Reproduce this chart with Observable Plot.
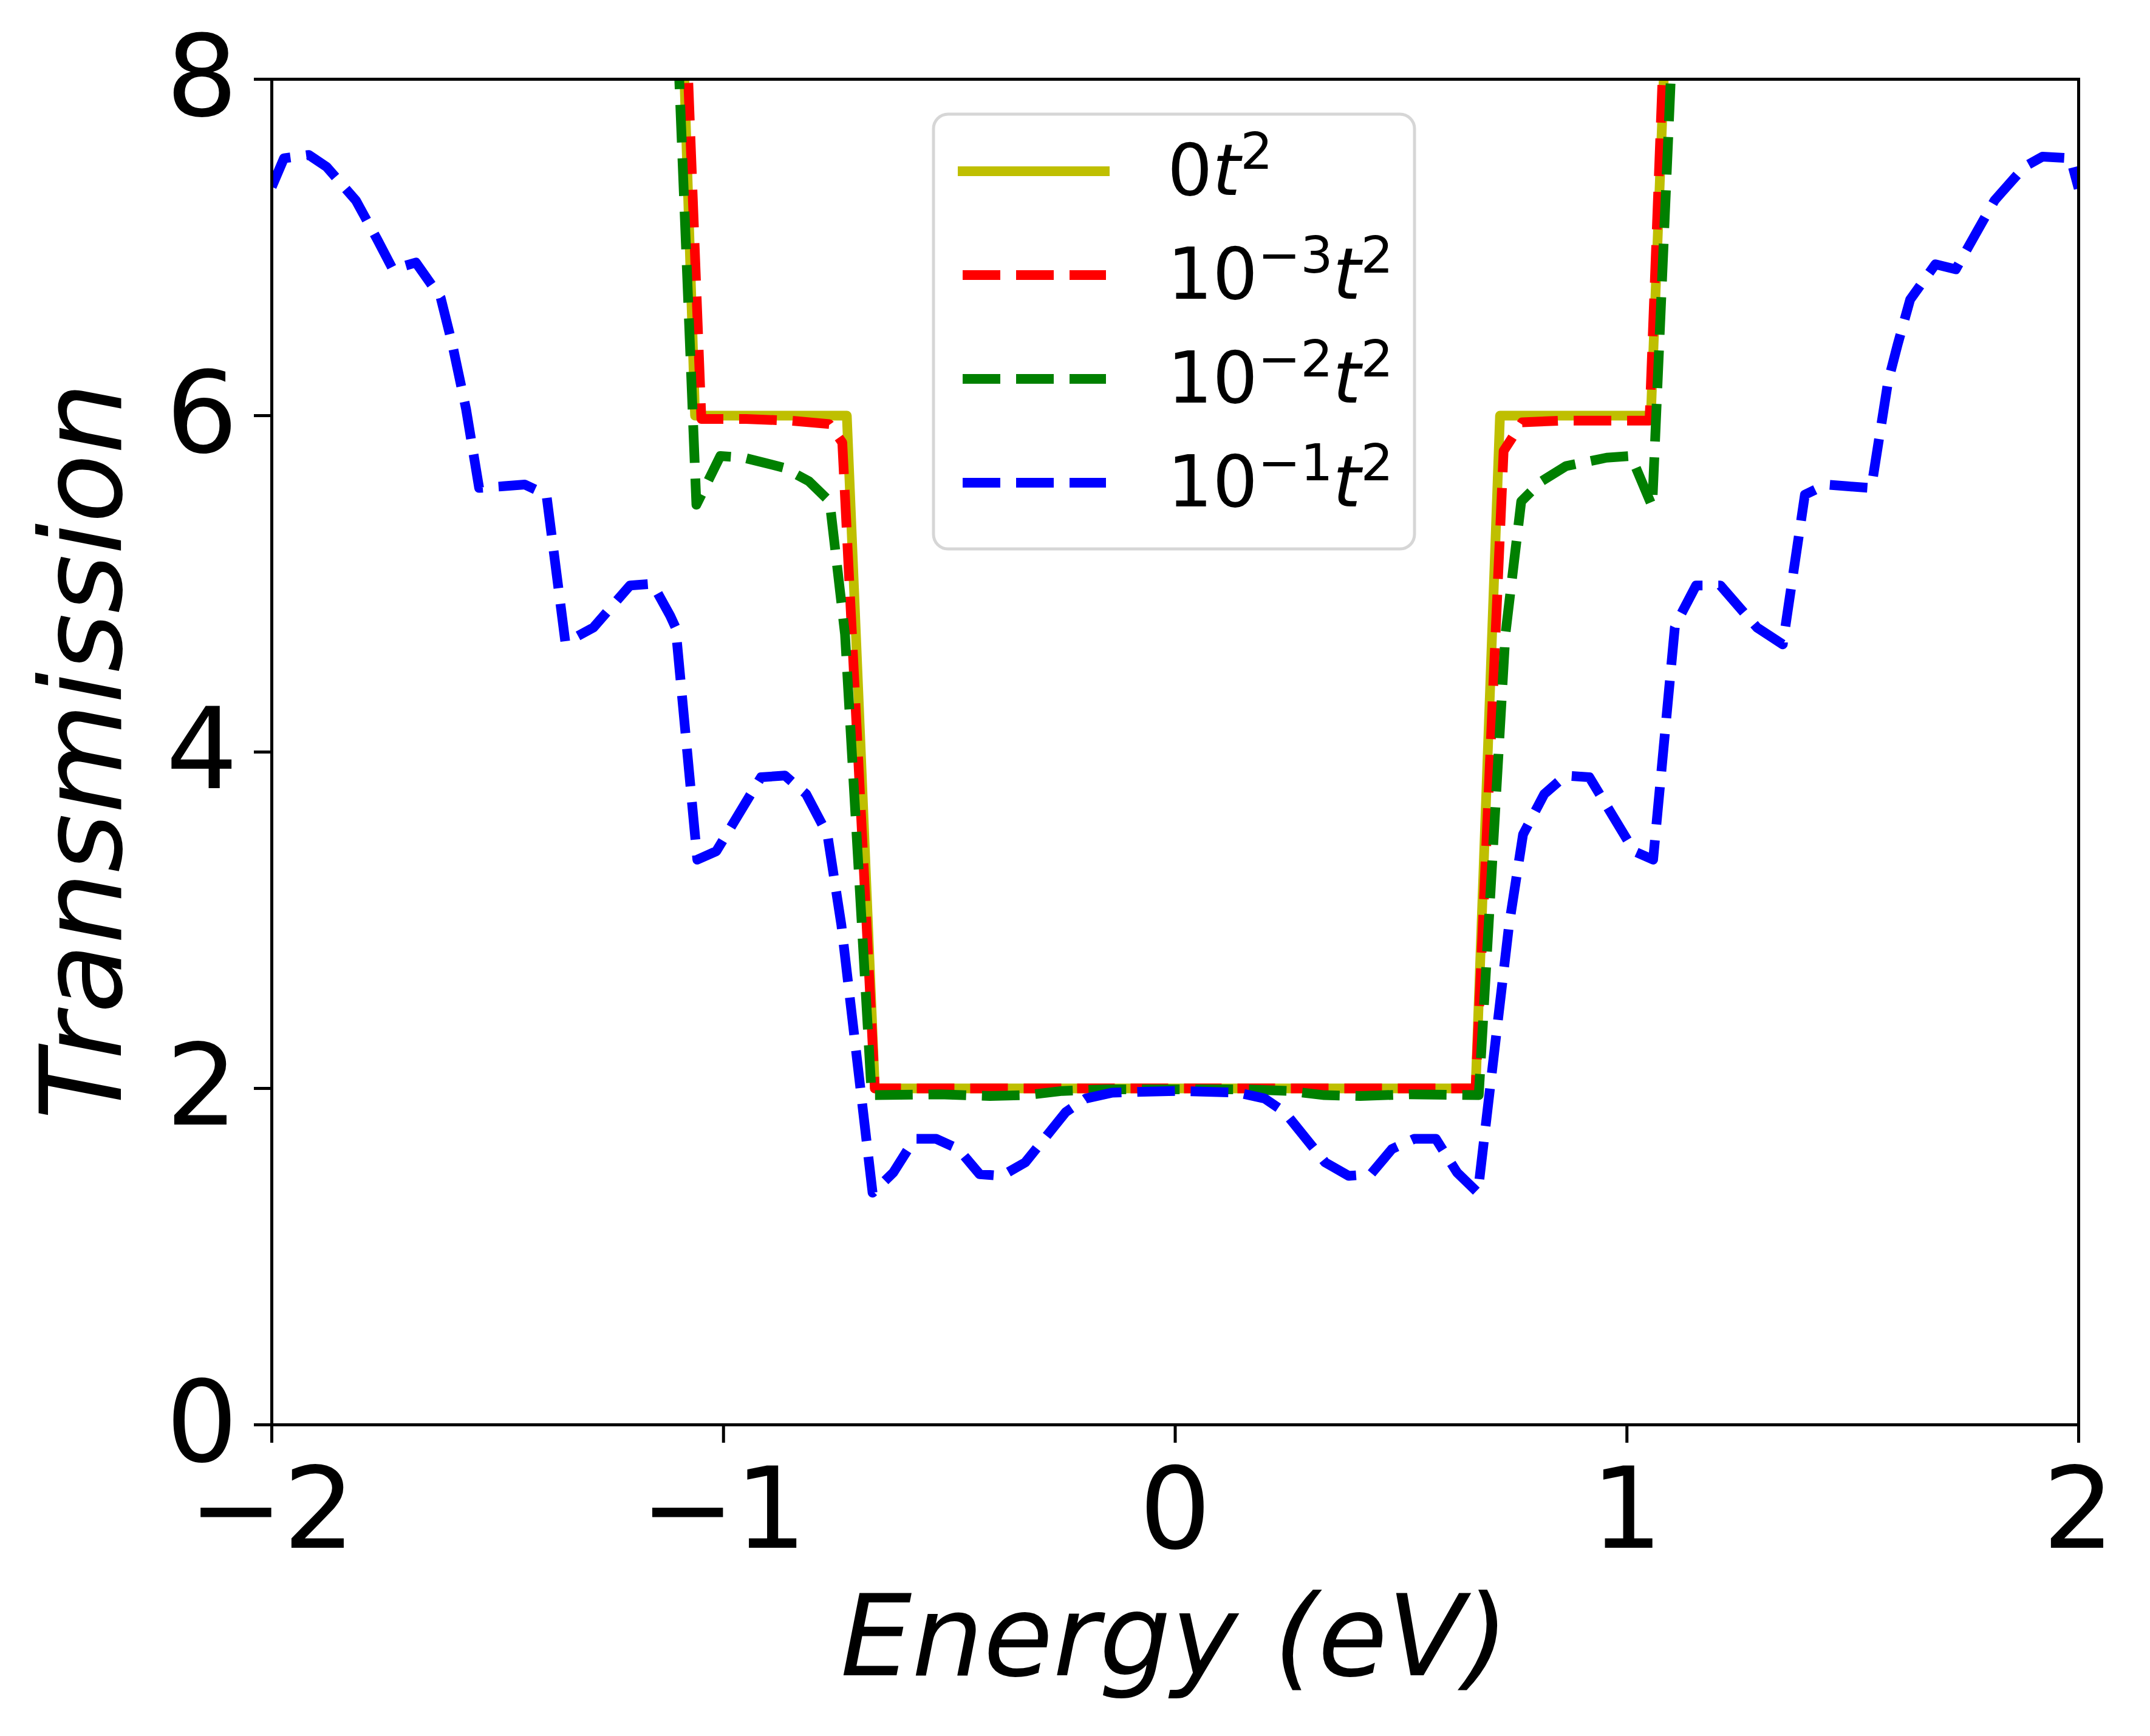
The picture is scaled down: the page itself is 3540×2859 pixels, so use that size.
<!DOCTYPE html>
<html><head><meta charset="utf-8">
<script src="https://cdn.jsdelivr.net/npm/d3@7"></script>
<script src="https://cdn.jsdelivr.net/npm/@observablehq/plot@0.6"></script>
<style>html,body{margin:0;padding:0;background:#fff;}</style>
</head><body><div id="chart"></div>
<script>
// ---- data ----
const xTicks = [-2, -1, 0, 1, 2];
const yTicks = [0, 2, 4, 6, 8];
const xLabel = "Energy (eV)";
const yLabel = "Transmission";

const seriesColors = ["#bfbf00", "#ff0000", "#008000", "#0000ff"];
const seriesDashed = [false, true, true, true];
const legendBase = ["0", "10", "10", "10"];
const legendExp = [null, "\u22123", "\u22122", "\u22121"];

// 0 t^2
const energy0 = [-1.11, -1.063, -0.727, -0.665, 0.665, 0.719, 1.053, 1.11];
const trans0  = [10.0, 6.0, 6.0, 2.0, 2.0, 6.0, 6.0, 10.0];

// 10^-3 t^2
const energy3 = [-1.11, -1.049, -0.95, -0.85, -0.766, -0.737, -0.665, 0.665, 0.727, 0.768, 0.85, 0.95, 1.050, 1.11];
const trans3  = [10.2, 5.98, 5.98, 5.97, 5.95, 5.84, 2.0, 2.0, 5.79, 5.96, 5.97, 5.97, 5.97, 10.2];

// 10^-2 t^2
const energy2 = [-1.11, -1.060, -1.007, -0.955, -0.866, -0.811, -0.765, -0.731, -0.672, -0.52, -0.41, -0.33, -0.25, -0.15, 0,
                 0.15, 0.25, 0.33, 0.41, 0.52, 0.672, 0.731, 0.766, 0.811, 0.865, 0.955, 1.009, 1.056, 1.11];
const trans2  = [8.8, 5.47, 5.76, 5.75, 5.69, 5.61, 5.49, 4.70, 1.96, 1.965, 1.955, 1.96, 1.985, 1.995, 1.995,
                 1.995, 1.985, 1.96, 1.955, 1.965, 1.96, 4.70, 5.49, 5.61, 5.70, 5.75, 5.76, 5.46, 8.8];

// 10^-1 t^2
const energy1 = [-2.000, -1.973, -1.918, -1.879, -1.814, -1.767, -1.732, -1.681, -1.626, -1.600, -1.570, -1.541,
                 -1.488, -1.440, -1.392, -1.350, -1.288, -1.207, -1.157, -1.118, -1.106, -1.058, -1.016, -0.917,
                 -0.864, -0.817, -0.770, -0.739, -0.670, -0.624, -0.577, -0.529, -0.480, -0.433, -0.384, -0.332,
                 -0.242, -0.198, -0.139, 0.000,
                 0.139, 0.198, 0.242, 0.332, 0.384, 0.433, 0.480, 0.529, 0.577, 0.624, 0.670, 0.739, 0.770,
                 0.817, 0.864, 0.917, 1.016, 1.058, 1.106, 1.118, 1.153, 1.207, 1.288, 1.345, 1.394, 1.440,
                 1.488, 1.541, 1.578, 1.599, 1.627, 1.683, 1.728, 1.776, 1.814, 1.880, 1.920, 1.982, 2.000];
const trans1  = [7.36, 7.53, 7.55, 7.48, 7.28, 7.05, 6.87, 6.91, 6.70, 6.42, 6.04, 5.57,
                 5.58, 5.59, 5.53, 4.65, 4.74, 4.99, 5.00, 4.81, 4.74, 3.36, 3.41, 3.85,
                 3.86, 3.75, 3.51, 2.97, 1.38, 1.50, 1.70, 1.70, 1.64, 1.49, 1.48, 1.56,
                 1.86, 1.94, 1.975, 1.985,
                 1.975, 1.94, 1.86, 1.56, 1.48, 1.49, 1.64, 1.70, 1.70, 1.50, 1.38, 2.97, 3.51,
                 3.75, 3.86, 3.85, 3.41, 3.36, 4.74, 4.81, 4.99, 4.99, 4.74, 4.64, 5.53, 5.59,
                 5.58, 5.57, 6.20, 6.42, 6.69, 6.90, 6.87, 7.10, 7.28, 7.48, 7.54, 7.53, 7.35];

const seriesEnergy = [energy0, energy3, energy2, energy1];
const seriesTrans = [trans0, trans3, trans2, trans1];

// ---- chart ----
const FS = 186;
const fmt = d => (d < 0 ? "\u2212" + Math.abs(d) : String(d));

const lineMarks = seriesEnergy.map((E, i) =>
  Plot.line(E.map((e, j) => ({E: e, T: seriesTrans[i][j]})), {
    x: "E", y: "T",
    stroke: seriesColors[i],
    strokeWidth: 16,
    strokeDasharray: seriesDashed[i] ? "62,26" : "none",
    strokeLinecap: "butt",
    strokeLinejoin: "round",
    clip: true
  })
);

const svg = Plot.plot({
  width: 3540,
  height: 2859,
  marginLeft: 447,
  marginRight: 118,
  marginTop: 130,
  marginBottom: 513,
  x: {domain: [-2, 2]},
  y: {domain: [0, 8]},
  style: {fontFamily: "'DejaVu Sans', sans-serif", background: "white", color: "black", overflow: "visible"},
  marks: [
    Plot.axisX({ticks: xTicks, tickSize: 30, tickPadding: 40, fontSize: FS, strokeWidth: 5, tickFormat: fmt, label: null}),
    Plot.axisY({ticks: yTicks, tickSize: 29, tickPadding: 27, fontSize: FS, strokeWidth: 5, tickFormat: fmt, label: null}),
    ...lineMarks,
    Plot.frame({stroke: "black", strokeWidth: 5})
  ]
});

const s = d3.select(svg);
// axis labels
s.append("text")
  .attr("x", 1934).attr("y", 2759)
  .attr("text-anchor", "middle")
  .attr("font-size", FS).attr("font-style", "italic")
  .attr("fill", "black")
  .text(xLabel);
s.append("text")
  .attr("transform", "translate(199,1237) rotate(-90)")
  .attr("text-anchor", "middle")
  .attr("font-size", FS).attr("font-style", "italic")
  .attr("fill", "black")
  .text(yLabel);

// legend
const lg = s.append("g").attr("text-anchor", "start");
lg.append("rect")
  .attr("x", 1537).attr("y", 188).attr("width", 792).attr("height", 716)
  .attr("rx", 24).attr("ry", 24)
  .attr("fill", "white").attr("fill-opacity", 0.8)
  .attr("stroke", "#cccccc").attr("stroke-opacity", 0.8).attr("stroke-width", 5);
seriesColors.forEach((c, i) => {
  const cy = 282 + i * 171;
  lg.append("line")
    .attr("x1", seriesDashed[i] ? 1585 : 1577).attr("x2", seriesDashed[i] ? 1821 : 1827)
    .attr("y1", cy).attr("y2", cy)
    .attr("stroke", c).attr("stroke-width", 16)
    .attr("stroke-dasharray", seriesDashed[i] ? "62,26" : null);
  const t = lg.append("text")
    .attr("x", 1922).attr("y", 321 + i * 171)
    .attr("text-anchor", "start")
    .attr("font-size", 117).attr("fill", "black");
  t.append("tspan").text(legendBase[i]);
  if (legendExp[i]) {
    t.append("tspan").attr("dy", -43).attr("font-size", 84).text(legendExp[i]);
    t.append("tspan").attr("dy", 43).attr("font-style", "italic").text("t");
  } else {
    t.append("tspan").attr("font-style", "italic").text("t");
  }
  t.append("tspan").attr("dy", -43).attr("font-size", 84).text("2");
});

document.getElementById("chart").appendChild(svg);
</script>
</body></html>
